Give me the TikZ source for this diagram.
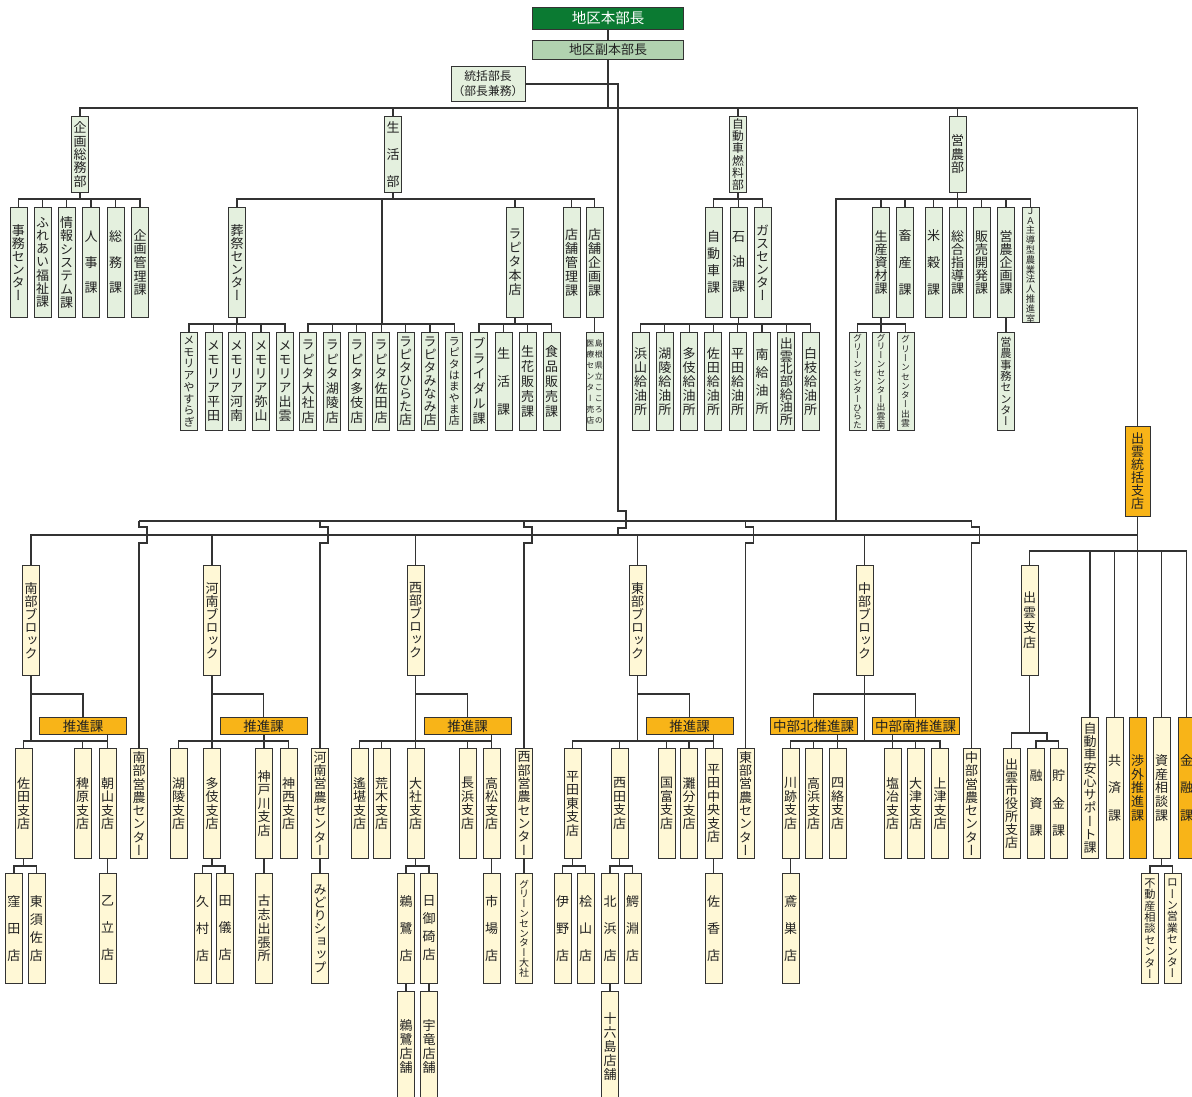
\documentclass[tikz,border=0pt]{standalone}
\usepackage{fontspec}
\setmainfont{Noto Sans CJK JP}
\newfontfamily\tatefont{Noto Sans CJK JP}[RawFeature=+vert]
\definecolor{linec}{HTML}{333333}
\definecolor{txtc}{HTML}{222222}
\definecolor{grbox}{HTML}{E4F0DE}
\definecolor{crbox}{HTML}{FFF8D6}
\definecolor{orbox}{HTML}{F8B418}
\definecolor{dkgreen}{HTML}{0B7A32}
\definecolor{ltgreen}{HTML}{B1D2B0}

% vertical text, one character per line
\newcommand\tate[2][13]{\vbox{\baselineskip=#1pt\lineskiplimit=-100pt\expandafter\tatel#2\relax}}
\def\tatel#1{\ifx\relax#1\else\hbox to 1em{\hss#1\hss}\expandafter\tatel\fi}

\tikzset{
  bx/.style={draw=linec, line width=1pt, inner sep=0pt, minimum width=17pt,
    anchor=north, text=txtc, font=\tatefont\fontsize{13}{13}\selectfont},
  gbx/.style={bx, fill=grbox, minimum height=#1},
  ybx/.style={bx, fill=crbox, minimum height=#1},
  obx/.style={bx, fill=orbox, minimum height=#1},
  hbx/.style={draw=linec, line width=1pt, inner sep=0pt, anchor=north, text=txtc,
    font=\fontsize{13}{14}\selectfont},
  wire/.style={draw=linec, line width=1.1pt},
}

\begin{document}
\begin{tikzpicture}[x=1pt, y=-1pt]
    \path[use as bounding box] (0,0) rectangle (1192,1097);
    \clip (0,0) rectangle (1192,1097);

    \node[hbx, fill=dkgreen, text=white, minimum width=151, minimum height=22,
        font=\fontsize{14.5}{14}\selectfont] (honbu) at (608,7) {地区本部長};
    \node[hbx, fill=ltgreen, minimum width=151, minimum height=19] (fuku) at (608,40) {地区副本部長};
    \node[hbx, fill=grbox, minimum width=74, minimum height=35, align=center,
        font=\fontsize{11.8}{15}\selectfont] (tokatsu) at (488,66) {統括部長\\（部長兼務）};

    \node[gbx=76] (kikaku) at (80,116) {\tate[13.4]{企画総務部}};
    \node[gbx=76] (seikatsu) at (393,116) {\tate[27]{生活部}};
    \node[gbx=76, font=\tatefont\fontsize{11.8}{12}\selectfont] (jidosha) at (738,116) {\tate[12.2]{自動車燃料部}};
    \node[gbx=76] (einou) at (957.5,116) {\tate[13.5]{営農部}};
    \node[obx=90, minimum width=25] (izumo) at (1137.5,426) {\tate{出雲統括支店}};

    \foreach \nm/\xx/\lbl/\pp in {jimu/18.5/事務センター/13, fureai/42.5/ふれあい福祉課/13.3,
        joho/66.5/情報システム課/13.3, jinji/91/人事課/25.5, somu/115.5/総務課/25.5,
        kkanri/140/企画管理課/13.7, sosai/237/葬祭センター/13, rapihon/515/ラピタ本店/14,
        tkanri/571.5/店舗管理課/14, tkikaku/594.5/店舗企画課/14, jidoka/713.5/自動車課/17,
        sekiyu/738.5/石油課/25, gas/762.5/ガスセンター/13, shizai/881/生産資材課/12.8,
        chikusan/905/畜産課/27, beikoku/933.5/米穀課/27, sogo/957.5/総合指導課/13,
        hanbai/981.5/販売開発課/13, eikikaku/1006/営農企画課/13}
        \node[gbx=110] (\nm) at (\xx,207) {\tate[\pp]{\lbl}};
    \node[gbx=110, font=\tatefont\fontsize{9.3}{9}\selectfont] (jahou) at (1030.5,207) {\tate[9.8]{ＪＡ主導型農業法人推進室}};

    \foreach \nm/\xx/\lbl/\pp in {mem2/213.5/メモリア平田/14, mem3/236.5/メモリア河南/14,
        mem4/261/メモリア弥山/14, mem5/285/メモリア出雲/14, rap1/308/ラピタ大社店/14.5,
        rap2/332.4/ラピタ湖陵店/14.5, rap3/356.8/ラピタ多伎店/14.5, rap4/381.2/ラピタ佐田店/14.5,
        rap5/405.6/ラピタひらた店/13, rap6/430/ラピタみなみ店/13, brid/479/ブライダル課/15,
        seikatsuka/503.5/生活課/28, seika/527.5/生花販売課/15, shokuhin/551.5/食品販売課/15,
        ss1/640.5/浜山給油所/14, ss2/664.8/湖陵給油所/14, ss3/689.1/多伎給油所/14,
        ss4/713.4/佐田給油所/14, ss5/737.7/平田給油所/14, ss6/762/南給油所/18,
        ss7/786.3/出雲北部給油所/12.7, ss8/810.6/白枝給油所/14}
        \node[gbx=98] (\nm) at (\xx,332) {\tate[\pp]{\lbl}};
    \node[gbx=98, font=\tatefont\fontsize{11.2}{11}\selectfont] (eijimu) at (1006,332) {\tate[11.3]{営農事務センター}};
    \node[gbx=98, font=\tatefont\fontsize{11.2}{11}\selectfont] (mem1) at (189,332) {\tate[11.7]{メモリアやすらぎ}};
    \node[gbx=98, font=\tatefont\fontsize{11}{11}\selectfont] (rap7) at (454.4,332) {\tate[11.3]{ラピタはまやま店}};
    \node[gbx=98, font=\tatefont\fontsize{8}{8}\selectfont] (kokoro) at (594.5,332)
        {\tate[11]{医療センター売店}\kern0.5pt\tate[11]{島根県立こころの}};
    \foreach \nm/\xx/\lbl/\pp in {gc1/857.5/グリーンセンターひらた/8.7, gc2/881/グリーンセンター出雲南/8.7,
        gc3/905.5/グリーンセンター出雲/9.3}
        \node[gbx=98, font=\tatefont\fontsize{8.8}{9}\selectfont] (\nm) at (\xx,332) {\tate[\pp]{\lbl}};

    \foreach \nm/\xx/\lbl/\pp in {nanbu/31/南部ブロック/13, kanan/212/河南ブロック/13,
        seibu/415.5/西部ブロック/13, tobu/637.5/東部ブロック/13, chubu/864.5/中部ブロック/13,
        izshiten/1029.5/出雲支店/15}
        \node[ybx=110] (\nm) at (\xx,565) {\tate[\pp]{\lbl}};

    \foreach \nm/\xx/\lbl in {sui1/83/推進課, sui2/263.5/推進課, sui3/467.5/推進課,
        sui4/689.5/推進課, sui5/813.5/中部北推進課, sui6/915.5/中部南推進課}
        \node[hbx, fill=orbox, minimum width=87, minimum height=17,
            font=\fontsize{13.5}{13}\selectfont] (\nm) at (\xx,717) {\lbl};

    \foreach \nm/\xx/\lbl/\pp in {sada/23.5/佐田支店/13.5, hiebara/82.5/稗原支店/13.5,
        asayama/107.5/朝山支店/13.5, naneino/139/南部営農センター/13.3, korin/178.5/湖陵支店/13.5,
        taki/212/多伎支店/13.5, kando/264/神戸川支店/13.5, jinzai/288.5/神西支店/13.5,
        kaneino/320/河南営農センター/13.3, yotan/359.5/遙堪支店/13.5, araki/381.5/荒木支店/13.5,
        taisha/415.5/大社支店/13.5, nagahama/467.5/長浜支店/13.5, takamatsu/491.5/高松支店/13.5,
        seieino/524/西部営農センター/13.3, hirahigashi/572.5/平田東支店/13.5,
        nishida/619.5/西田支店/13.5, kunitomi/666.5/国富支店/13.5, nadabun/689/灘分支店/13.5,
        hirachuo/713.5/平田中央支店/13.5, toeino/745.5/東部営農センター/13.3,
        kawato/790.5/川跡支店/13.5, takahama/813.5/高浜支店/13.5, shiraku/837.5/四絡支店/13.5,
        enya/892.5/塩冶支店/13.5, otsu/915.5/大津支店/13.5, kamitsu/940/上津支店/13.5,
        chueino/971.5/中部営農センター/13.3, shiyaku/1011.5/出雲市役所支店/13,
        yushi/1036/融資課/27.5, chokin/1058.5/貯金課/27.5}
        \node[ybx=110] (\nm) at (\xx,748) {\tate[\pp]{\lbl}};

    \node[ybx=141] (anshin) at (1090,717) {\tate[13.3]{自動車安心サポート課}};
    \node[ybx=141] (kyosai) at (1114.5,717) {\tate[27.5]{共済課}};
    \node[obx=141] (shogai) at (1137.5,717) {\tate[13.75]{渉外推進課}};
    \node[ybx=141] (shisan) at (1161.5,717) {\tate[13.75]{資産相談課}};
    \node[obx=141] (kinyu) at (1186.5,717) {\tate[27.5]{金融課}};

    \foreach \nm/\xx/\lbl/\pp in {kubota/14/窪田店/27, higashisusa/36.5/東須佐店/18,
        kitaru/107.5/乙立店/27, kumura/202.5/久村店/27, tagi/225/田儀店/27,
        koshi/264/古志出張所/13.75, midori/320/みどりショップ/13, usagi/406/鵜鷺店/27,
        hinomisaki/429/日御碕店/18, ichiba/491.5/市場店/27, ino/562.5/伊野店/27,
        hiyama/585.5/桧山店/27, kitahama/610/北浜店/27, wanibuchi/632.5/鰐淵店/27,
        sako/713.5/佐香店/27, tobinosu/790.5/鳶巣店/27}
        \node[ybx=110] (\nm) at (\xx,873) {\tate[\pp]{\lbl}};
    \node[ybx=110, font=\tatefont\fontsize{10}{10}\selectfont] (gcta) at (524,873) {\tate[9.8]{グリーンセンター大社}};
    \node[ybx=110, font=\tatefont\fontsize{11.2}{11}\selectfont] (fudosan) at (1150,873) {\tate[11.4]{不動産相談センター}};
    \node[ybx=110, font=\tatefont\fontsize{11.2}{11}\selectfont] (loan) at (1172.5,873) {\tate[11.4]{ローン営業センター}};

    \foreach \nm/\xx/\lbl in {usagitenpo/406/鵜鷺店舗, uryu/429/宇竜店舗, juroku/610/十六島店舗}
        \node[ybx=110] (\nm) at (\xx,991) {\tate[14]{\lbl}};

    \coordinate (rapj) at (382,324);
    \coordinate (eij) at (836,199);
    \coordinate (lowj) at (618,535);
    \coordinate (yuj) at (1047,741);

    \draw[wire] (honbu) -- (fuku);
    \foreach \c in {kikaku,seikatsu,jidosha,einou,izumo}
        \draw[wire] (fuku.south) -- (fuku.south |- 0,108) -| (\c.north);
    \draw[wire] (tokatsu.east) -| (618,511) -- (626,511) -- (626,528) -- (618,528) -- (lowj);

    \foreach \c in {jimu,fureai,joho,jinji,somu,kkanri}
        \draw[wire] (kikaku.south) -- (kikaku.south |- 0,199) -| (\c.north);
    \foreach \c in {sosai,rapihon,tkanri,tkikaku}
        \draw[wire] (seikatsu.south) -- (seikatsu.south |- 0,199) -| (\c.north);
    \draw[wire] (seikatsu.south |- 0,199) -| (rapj);
    \foreach \c in {mem1,mem2,mem3,mem4,mem5}
        \draw[wire] (sosai.south) -- (sosai.south |- 0,324) -| (\c.north);
    \foreach \c in {rap1,rap2,rap3,rap4,rap5,rap6,rap7}
        \draw[wire] (rapj) -| (\c.north);
    \foreach \c in {brid,seikatsuka,seika,shokuhin}
        \draw[wire] (rapihon.south) -- (rapihon.south |- 0,324) -| (\c.north);
    \draw[wire] (tkikaku.south) -- (kokoro.north);
    \foreach \c in {jidoka,sekiyu,gas}
        \draw[wire] (jidosha.south) -- (jidosha.south |- 0,199) -| (\c.north);
    \foreach \c in {ss1,ss2,ss3,ss4,ss5,ss6,ss7,ss8}
        \draw[wire] (sekiyu.south) -- (sekiyu.south |- 0,324) -| (\c.north);
    \foreach \c in {shizai,chikusan,beikoku,sogo,hanbai,eikikaku,jahou}
        \draw[wire] (einou.south) -- (einou.south |- 0,199) -| (\c.north);
    \draw[wire] (einou.south |- 0,199) -- (eij) -- (eij |- 0,521);
    \foreach \c in {gc1,gc2,gc3}
        \draw[wire] (shizai.south) -- (shizai.south |- 0,324) -| (\c.north);
    \draw[wire] (eikikaku.south) -- (eijimu.north);

    \foreach \c in {nanbu,kanan,seibu,tobu,chubu}
        \draw[wire] (lowj) -| (\c.north);
    \draw[wire] (lowj) -- (lowj -| izumo.south);
    \draw[wire] (izumo.south) -- (shogai.north);
    \foreach \c in {izshiten,anshin,kyosai,shisan,kinyu}
        \draw[wire] (izumo.south |- 0,551) -| (\c.north);

    \draw[wire] (naneino.north |- 0,521) -- (chueino.north |- 0,521);
    \foreach \c in {naneino,kaneino,seieino,toeino,chueino}
        \draw[wire] (\c.north |- 0,521) -- ++(0,6) -- ++(8,0) -- ++(0,16) -- ++(-8,0) -- (\c.north);

    \foreach \b/\s/\c in {nanbu/sui1/sada, nanbu/sui1/hiebara, nanbu/sui1/asayama,
        kanan/sui2/korin, kanan/sui2/taki, kanan/sui2/kando, kanan/sui2/jinzai,
        seibu/sui3/yotan, seibu/sui3/araki, seibu/sui3/taisha, seibu/sui3/nagahama, seibu/sui3/takamatsu,
        tobu/sui4/hirahigashi, tobu/sui4/nishida, tobu/sui4/kunitomi, tobu/sui4/nadabun, tobu/sui4/hirachuo,
        chubu/sui5/kawato, chubu/sui5/takahama, chubu/sui5/shiraku,
        chubu/sui6/enya, chubu/sui6/otsu, chubu/sui6/kamitsu}
        \draw[wire] (\b.south) -- (\b.south |- 0,741) -| (\c.north)
            (\b.south |- 0,694) -| (\s.north);
    \foreach \s/\c in {sui1/asayama, sui2/kando, sui3/takamatsu, sui4/hirachuo, sui5/shiraku, sui6/enya}
        \draw[wire] (\s.south -| \c.north) -- (\c.north);

    \draw[wire] (izshiten.south) -- (izshiten.south |- 0,733) -| (shiyaku.north);
    \draw[wire] (izshiten.south |- 0,733) -| (yuj);
    \foreach \c in {yushi,chokin}
        \draw[wire] (yuj) -| (\c.north);

    \foreach \p/\c in {sada/kubota, sada/higashisusa, asayama/kitaru, taki/kumura, taki/tagi,
        kando/koshi, kaneino/midori, taisha/usagi, taisha/hinomisaki, takamatsu/ichiba,
        seieino/gcta, hirahigashi/ino, hirahigashi/hiyama, nishida/kitahama, nishida/wanibuchi,
        hirachuo/sako, kawato/tobinosu, shisan/fudosan, shisan/loan}
        \draw[wire] (\p.south) -- (\p.south |- 0,866) -| (\c.north);
    \foreach \p/\c in {usagi/usagitenpo, hinomisaki/uryu, kitahama/juroku}
        \draw[wire] (\p.south) -- (\c.north);
\end{tikzpicture}
\end{document}
